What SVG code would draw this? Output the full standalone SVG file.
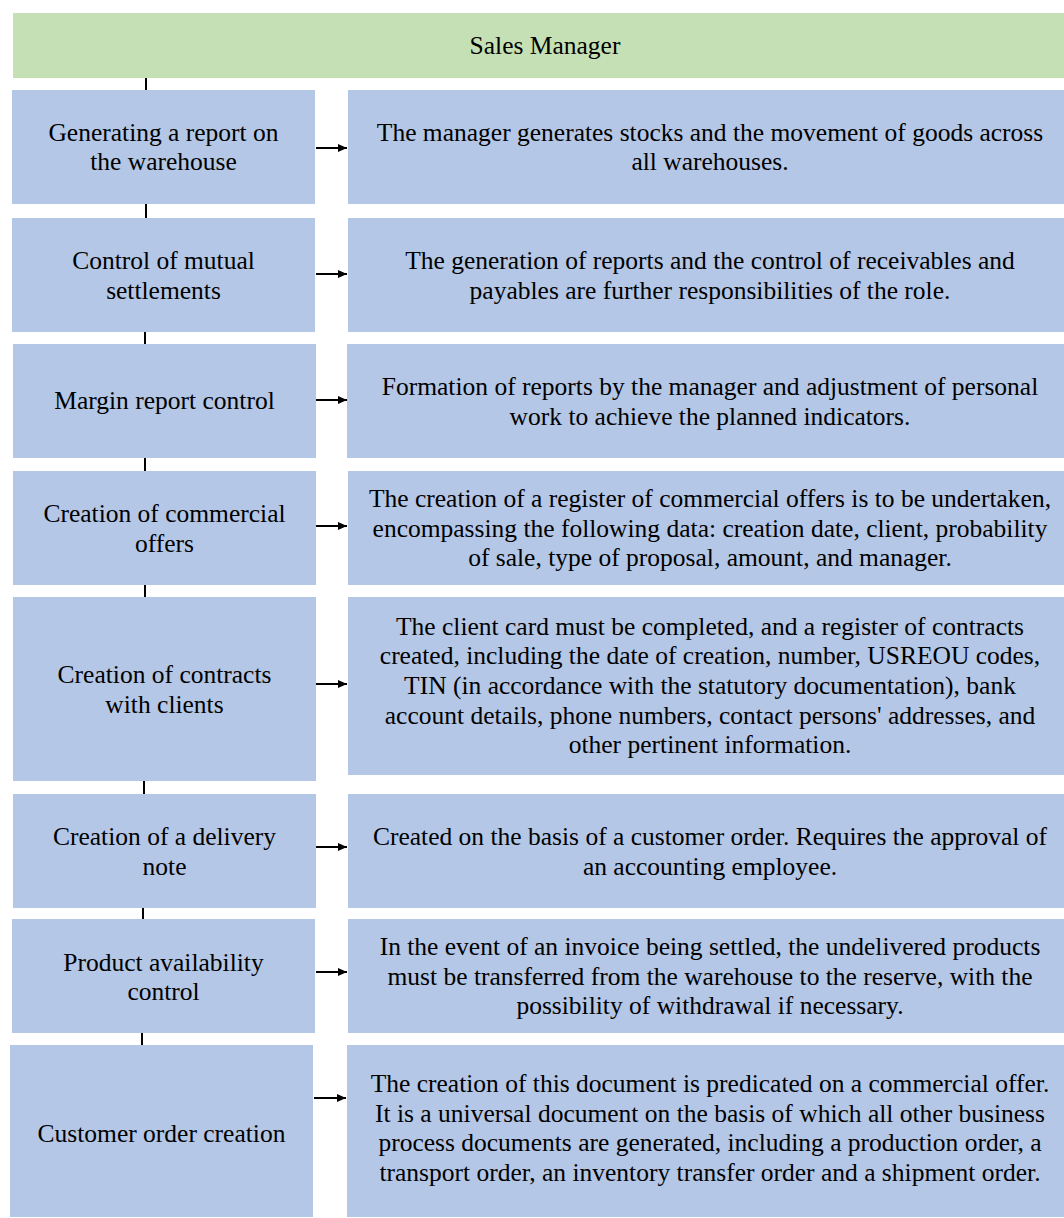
<svg xmlns="http://www.w3.org/2000/svg" width="1064" height="1218" viewBox="0 0 1064 1218">
<style>
.hdr{fill:#C5E0B4}
.box{fill:#B4C7E7}
text{font-family:"Liberation Serif","Times New Roman",serif;font-size:25.5px;fill:#000;text-anchor:middle}
.tick{stroke:#000;stroke-width:2}
.arr{stroke:#000;stroke-width:2;fill:none;marker-end:url(#ah)}
</style>
<defs>
<marker id="ah" markerUnits="userSpaceOnUse" markerWidth="9" markerHeight="8" refX="9" refY="4" orient="auto">
<path d="M0,0 L9,4 L0,8 z" fill="#000"/>
</marker>
</defs>
<rect x="0" y="0" width="1064" height="1218" fill="#fff"/>
<g id="header">
<rect class="hdr" x="13" y="13" width="1051" height="65"/>
<text x="545" y="54">Sales Manager</text>
</g>
<g id="row1-left"><rect class="box" x="12" y="90" width="303" height="114"/>
<text x="163.5" y="141">Generating a report on</text><text x="163.5" y="170">the warehouse</text></g>
<g id="row1-right"><rect class="box" x="348" y="90" width="716" height="114"/>
<text x="710" y="141">The manager generates stocks and the movement of goods across</text><text x="710" y="170">all warehouses.</text></g>
<g id="row2-left"><rect class="box" x="12" y="218" width="303" height="114"/>
<text x="163.5" y="269">Control of mutual</text><text x="163.5" y="299">settlements</text></g>
<g id="row2-right"><rect class="box" x="348" y="218" width="716" height="114"/>
<text x="710" y="269">The generation of reports and the control of receivables and</text><text x="710" y="299">payables are further responsibilities of the role.</text></g>
<g id="row3-left"><rect class="box" x="13" y="344" width="303" height="114"/>
<text x="164.5" y="409">Margin report control</text></g>
<g id="row3-right"><rect class="box" x="347" y="344" width="717" height="114"/>
<text x="710" y="395">Formation of reports by the manager and adjustment of personal</text><text x="710" y="425">work to achieve the planned indicators.</text></g>
<g id="row4-left"><rect class="box" x="13" y="471" width="303" height="114"/>
<text x="164.5" y="522">Creation of commercial</text><text x="164.5" y="552">offers</text></g>
<g id="row4-right"><rect class="box" x="348" y="471" width="716" height="114"/>
<text x="710" y="507">The creation of a register of commercial offers is to be undertaken,</text><text x="710" y="537">encompassing the following data: creation date, client, probability</text><text x="710" y="566">of sale, type of proposal, amount, and manager.</text></g>
<g id="row5-left"><rect class="box" x="13" y="597" width="303" height="184"/>
<text x="164.5" y="683">Creation of contracts</text><text x="164.5" y="713">with clients</text></g>
<g id="row5-right"><rect class="box" x="348" y="597" width="716" height="178"/>
<text x="710" y="635">The client card must be completed, and a register of contracts</text><text x="710" y="664">created, including the date of creation, number, USREOU codes,</text><text x="710" y="694">TIN (in accordance with the statutory documentation), bank</text><text x="710" y="724">account details, phone numbers, contact persons' addresses, and</text><text x="710" y="753">other pertinent information.</text></g>
<g id="row6-left"><rect class="box" x="13" y="794" width="303" height="114"/>
<text x="164.5" y="845">Creation of a delivery</text><text x="164.5" y="875">note</text></g>
<g id="row6-right"><rect class="box" x="348" y="794" width="716" height="114"/>
<text x="710" y="845">Created on the basis of a customer order. Requires the approval of</text><text x="710" y="875">an accounting employee.</text></g>
<g id="row7-left"><rect class="box" x="12" y="919" width="303" height="114"/>
<text x="163.5" y="971">Product availability</text><text x="163.5" y="1000">control</text></g>
<g id="row7-right"><rect class="box" x="348" y="919" width="716" height="114"/>
<text x="710" y="955">In the event of an invoice being settled, the undelivered products</text><text x="710" y="985">must be transferred from the warehouse to the reserve, with the</text><text x="710" y="1014">possibility of withdrawal if necessary.</text></g>
<g id="row8-left"><rect class="box" x="10" y="1045" width="303" height="172"/>
<text x="161.5" y="1142">Customer order creation</text></g>
<g id="row8-right"><rect class="box" x="347" y="1045" width="717" height="172"/>
<text x="710" y="1092">The creation of this document is predicated on a commercial offer.</text><text x="710" y="1122">It is a universal document on the basis of which all other business</text><text x="710" y="1151">process documents are generated, including a production order, a</text><text x="710" y="1181">transport order, an inventory transfer order and a shipment order.</text></g>
<g id="connectors">
<line class="tick" x1="146" y1="78" x2="146" y2="90"/>
<line class="tick" x1="146" y1="204" x2="146" y2="218"/>
<line class="tick" x1="145" y1="332" x2="145" y2="344"/>
<line class="tick" x1="145" y1="458" x2="145" y2="471"/>
<line class="tick" x1="145" y1="585" x2="145" y2="597"/>
<line class="tick" x1="144" y1="781" x2="144" y2="794"/>
<line class="tick" x1="143" y1="908" x2="143" y2="919"/>
<line class="tick" x1="142" y1="1033" x2="142" y2="1045"/>
<line class="arr" x1="316" y1="148" x2="347" y2="148"/>
<line class="arr" x1="316" y1="274" x2="347" y2="274"/>
<line class="arr" x1="316" y1="400" x2="347" y2="400"/>
<line class="arr" x1="316" y1="526" x2="347" y2="526"/>
<line class="arr" x1="316" y1="684" x2="347" y2="684"/>
<line class="arr" x1="316" y1="847" x2="347" y2="847"/>
<line class="arr" x1="316" y1="972" x2="347" y2="972"/>
<line class="arr" x1="314" y1="1098" x2="346" y2="1098"/>
</g>
</svg>
